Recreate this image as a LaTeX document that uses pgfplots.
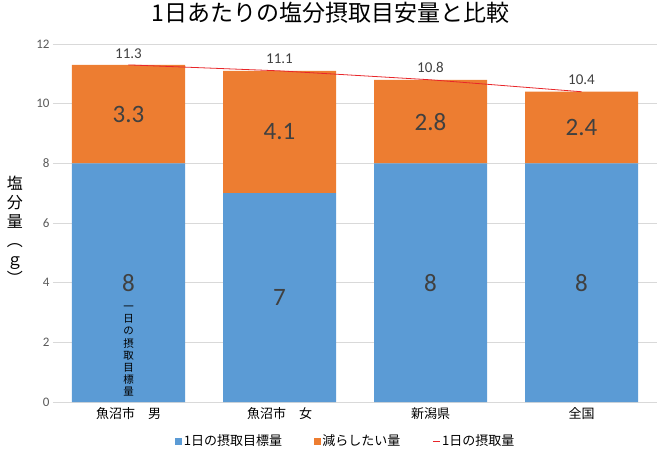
\documentclass[border=0pt]{standalone}
\usepackage{fontspec}
\setmainfont{Carlito}
\newfontfamily\jp{Noto Sans CJK JP}
\usepackage{pgfplots}
\usepackage{pgfplotstable}
\pgfplotsset{compat=1.18}
\definecolor{cblue}{HTML}{5B9BD5}
\definecolor{corange}{HTML}{ED7D31}
\definecolor{cgrid}{HTML}{D9D9D9}
\definecolor{ctext}{HTML}{404040}
\definecolor{ctick}{HTML}{595959}
\definecolor{cline}{HTML}{E8262A}

\pgfplotstableread{
x target reduce
0 8 3.3
1 7 4.1
2 8 2.8
3 8 2.4
}\bars
\pgfplotstableread{
x total
0 11.3
1 11.1
2 10.8
3 10.4
}\intake
\pgfplotstableread{
x y lab
0 4 8
1 3.5 7
2 4 8
3 4 8
0 9.65 3.3
1 9.05 4.1
2 9.4 2.8
3 9.2 2.4
}\labs

\begin{document}
\begin{tikzpicture}[x=1pt,y=1pt]
\useasboundingbox (-53,-53) rectangle (607,402);
\pgfplotsset{common/.style={scale only axis, width=604pt, height=358pt,
  xmin=-0.5, xmax=3.5, ymin=0, ymax=12, anchor=south west, at={(0,0)},
  /pgf/number format/assume math mode=true}}
\begin{axis}[common, ybar stacked, bar width=113pt,
  ytick={0,2,...,12}, ymajorgrids, grid style={cgrid, line width=0.8pt},
  axis x line*=bottom, axis y line*=left,
  x axis line style={cgrid, line width=0.8pt, -},
  y axis line style={draw=none},
  major tick length=0pt, tick style={draw=none},
  xtick=data,
  xticklabels={魚沼市　男, 魚沼市　女, 新潟県, 全国},
  xticklabel style={font=\jp\fontsize{13}{15}\selectfont, text=black, yshift=-2pt},
  yticklabel style={font=\fontsize{13}{15}\selectfont, text=ctick},
  ylabel={塩\\分\\量\\︵\\ｇ\\︶},
  ylabel style={at={(axis description cs:-0.063,0.48)}, rotate=-90, anchor=center,
    align=center, font=\jp\fontsize{16}{19}\selectfont},
  title={1日あたりの塩分摂取目安量と比較},
  title style={at={(axis description cs:0.459,1)}, anchor=center, yshift=25pt,
    font=\jp\fontsize{23}{26}\selectfont},
]
\addplot[fill=cblue, draw=none] table[x=x, y=target] {\bars};
\addplot[fill=corange, draw=none] table[x=x, y=reduce] {\bars};
\end{axis}
\begin{axis}[common, hide axis,
  legend style={at={(rel axis cs:0.485,-0.109)}, anchor=center, draw=none, fill=none,
    legend columns=3, font=\jp\fontsize{13}{15}\selectfont,
    /tikz/every even column/.append style={column sep=30pt}},
]
\addlegendimage{legend image code/.code={\fill[cblue] (0pt,-3pt) rectangle (6pt,3pt);}}
\addlegendentry{1日の摂取目標量}
\addlegendimage{legend image code/.code={\fill[corange] (0pt,-3pt) rectangle (6pt,3pt);}}
\addlegendentry{減らしたい量}
\addplot[cline, line width=0.8pt, mark=none, nodes near coords,
  nodes near coords style={anchor=south, yshift=3pt, text=ctext, font=\fontsize{15}{17}\selectfont},
  legend image code/.code={\draw[cline, line width=0.8pt] (0pt,0pt) -- (7pt,0pt);}]
  table[x=x, y=total] {\intake};
\addlegendentry{1日の摂取量}
\addplot[draw=none, mark=none, nodes near coords, point meta=explicit symbolic,
  nodes near coords style={anchor=center, text=ctext, font=\fontsize{25}{28}\selectfont,
    inner sep=1pt},
  forget plot] table[x=x, y=y, meta=lab] {\labs};
\addplot[draw=none, mark=none,
  nodes near coords={一\\日\\の\\摂\\取\\目\\標\\量},
  nodes near coords style={anchor=center, align=center, text=black, inner sep=0pt,
    font=\jp\fontsize{10.5}{12.2}\selectfont},
  forget plot] coordinates {(0,1.7)};
\end{axis}
\end{tikzpicture}
\end{document}
